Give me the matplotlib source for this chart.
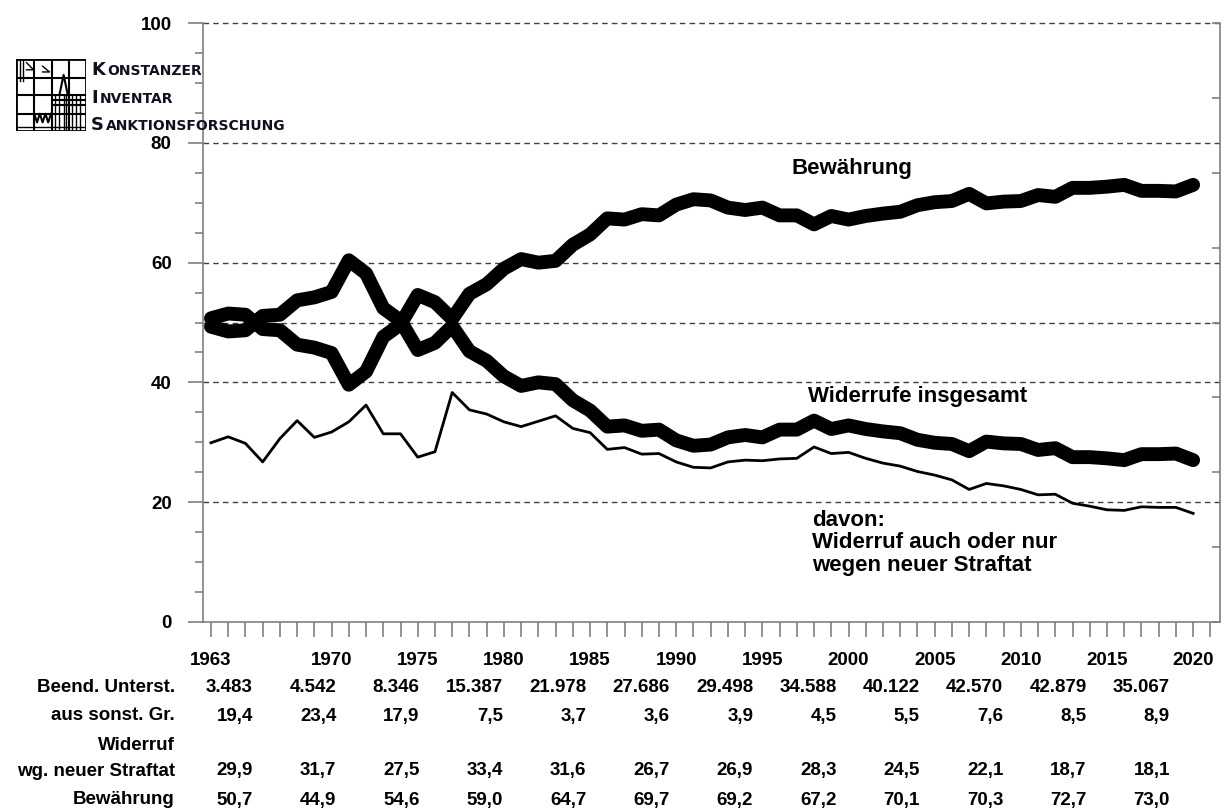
import matplotlib
matplotlib.use("Agg")
import matplotlib.pyplot as plt
import numpy as np

plt.rcParams["font.family"] = ["Liberation Sans", "DejaVu Sans"]
plt.rcParams["font.weight"] = "bold"

#+++++ data
years = list(range(1963, 2021))
bewaehrung = [50.7, 51.5, 51.3, 48.9, 48.7, 46.3, 45.8, 44.9, 39.6, 41.8,
              47.6, 49.7, 54.6, 53.4, 50.6, 54.8, 56.4, 59.0, 60.6, 60.0,
              60.3, 63.0, 64.7, 67.4, 67.2, 68.1, 67.9, 69.7, 70.6, 70.4,
              69.2, 68.8, 69.2, 67.9, 67.9, 66.4, 67.8, 67.2, 67.8, 68.2,
              68.5, 69.6, 70.1, 70.3, 71.5, 69.9, 70.2, 70.3, 71.3, 71.0,
              72.5, 72.5, 72.7, 73.0, 72.0, 72.0, 71.9, 73.0]
widerruf_ges = [49.3, 48.5, 48.7, 51.1, 51.3, 53.7, 54.2, 55.1, 60.4, 58.2,
                52.4, 50.3, 45.4, 46.6, 49.4, 45.2, 43.6, 41.0, 39.4, 40.0,
                39.7, 37.0, 35.3, 32.6, 32.8, 31.9, 32.1, 30.3, 29.4, 29.6,
                30.8, 31.2, 30.8, 32.1, 32.1, 33.6, 32.2, 32.8, 32.2, 31.8,
                31.5, 30.4, 29.9, 29.7, 28.5, 30.1, 29.8, 29.7, 28.7, 29.0,
                27.5, 27.5, 27.3, 27.0, 28.0, 28.0, 28.1, 27.0]
widerruf_neu = [29.9, 30.9, 29.8, 26.7, 30.6, 33.6, 30.8, 31.7, 33.4, 36.2,
                31.4, 31.4, 27.5, 28.4, 38.3, 35.4, 34.7, 33.4, 32.6, 33.5,
                34.4, 32.3, 31.6, 28.8, 29.1, 28.0, 28.1, 26.7, 25.8, 25.7,
                26.7, 27.0, 26.9, 27.2, 27.3, 29.2, 28.1, 28.3, 27.3, 26.5,
                26.0, 25.1, 24.5, 23.7, 22.1, 23.1, 22.7, 22.1, 21.2, 21.3,
                19.8, 19.3, 18.7, 18.6, 19.2, 19.1, 19.1, 18.1]

label_years = [1963, 1970, 1975, 1980, 1985, 1990, 1995, 2000, 2005, 2010, 2015, 2020]
beend_unterst = [3483, 4542, 8346, 15387, 21978, 27686, 29498, 34588, 40122, 42570, 42879, 35067]
aus_sonst = [19.4, 23.4, 17.9, 7.5, 3.7, 3.6, 3.9, 4.5, 5.5, 7.6, 8.5, 8.9]
tab_widerruf_neu = [29.9, 31.7, 27.5, 33.4, 31.6, 26.7, 26.9, 28.3, 24.5, 22.1, 18.7, 18.1]
tab_bewaehrung = [50.7, 44.9, 54.6, 59.0, 64.7, 69.7, 69.2, 67.2, 70.1, 70.3, 72.7, 73.0]
#-----

W, H = 1224, 808
gray = "#808080"


def fx(x):
    return x / W


def fy(y):
    return 1 - y / H


fig = plt.figure(figsize=(W / 100, H / 100), dpi=100)
ax = fig.add_axes([fx(202.7), fy(621.7), (1220 - 202.7) / W, (621.7 - 23.3) / H])

for g in [20, 40, 50, 60, 80, 100]:
    ax.axhline(g, color="#404040", lw=1, ls=(0, (4, 3)), zorder=0.5, clip_on=False)

ax.plot(years, widerruf_ges, color="k", lw=10, solid_capstyle="round")
ax.plot(years, bewaehrung, color="k", lw=10, solid_capstyle="round")
ax.plot(years, widerruf_neu, color="k", lw=2)

ax.set_xlim(1962.52, 2021.56)
ax.set_ylim(0, 100)

ax.spines["top"].set_visible(False)
ax.spines["right"].set_visible(False)
for s in ["left", "bottom"]:
    ax.spines[s].set_color(gray)
    ax.spines[s].set_linewidth(1.2)

all_years = list(range(1963, 2022))
ax.set_xticks(all_years)
ax.set_xticklabels([str(y) if y in label_years else "" for y in all_years])
ax.tick_params(axis="x", direction="out", length=10.8, width=1.2, color=gray,
               pad=11, labelsize=13.5)

ax.set_yticks(range(0, 101, 20))
ax.set_yticks(range(0, 101, 5), minor=True)
ax.tick_params(axis="y", which="major", direction="out", length=10.8, width=1.2,
               color=gray, pad=11.5, labelsize=13.5)
ax.tick_params(axis="y", which="minor", direction="out", length=5.5, width=1.2,
               color=gray)

ax2 = ax.twinx()
ax2.set_ylim(0, 100)
ax2.set_yticks(np.arange(0, 100.1, 12.5))
ax2.set_yticklabels([])
ax2.tick_params(axis="y", direction="in", length=5.5, width=1.2, color=gray)
for s in ["top", "left", "bottom"]:
    ax2.spines[s].set_visible(False)
ax2.spines["right"].set_color(gray)
ax2.spines["right"].set_linewidth(1.2)

ax.text(1996.7, 75.7, "Bewährung", fontsize=16, fontweight="bold", va="center")
ax.text(1997.65, 37.6, "Widerrufe insgesamt", fontsize=16, fontweight="bold",
        va="center")
ax.text(1997.9, 18.7, "davon:\nWiderruf auch oder nur\nwegen neuer Straftat",
        fontsize=16, fontweight="bold", va="top", linespacing=1.1)

# table below the chart
col_right = np.linspace(253, 1170, len(label_years))
rows = [
    ("Beend. Unterst.", 687, [f"{v:,}".replace(",", ".") for v in beend_unterst]),
    ("aus sonst. Gr.", 716, [f"{v:.1f}".replace(".", ",") for v in aus_sonst]),
    ("wg. neuer Straftat", 771, [f"{v:.1f}".replace(".", ",") for v in tab_widerruf_neu]),
    ("Bewährung", 800, [f"{v:.1f}".replace(".", ",") for v in tab_bewaehrung]),
]
for label, y, vals in rows:
    fig.text(fx(175), fy(y), label, ha="right", va="center", fontsize=13.5)
    for xr, v in zip(col_right, vals):
        fig.text(fx(xr), fy(y), v, ha="right", va="center", fontsize=13.5)
fig.text(fx(175), fy(746), "Widerruf", ha="right", va="center", fontsize=13.5)

# logo
lax = fig.add_axes([fx(16), fy(131), 70 / W, 72 / H])
lax.set_xlim(0, 1)
lax.set_ylim(0, 1)
lax.axis("off")
lk = dict(color="k", lw=1.5)
lax.plot([0, 1, 1, 0, 0], [0, 0, 1, 1, 0], color="k", lw=2)
for v in [0.25, 0.51, 0.75]:
    lax.plot([v, v], [0, 1], **lk)
for h in [0.24, 0.5, 0.73]:
    lax.plot([0, 1], [h, h], **lk)
lax.plot([0.52, 0.98], [0.43, 0.43], **lk)
lax.plot([0.52, 0.98], [0.36, 0.36], **lk)
for v in [0.55, 0.62, 0.68, 0.72, 0.8, 0.86, 0.92]:
    lax.plot([v, v], [0.02, 0.5], color="k", lw=1)
lax.plot([0.62, 0.68, 0.74], [0.5, 0.78, 0.5], **lk)
lax.plot([0.26, 0.3, 0.34, 0.38, 0.42, 0.46, 0.5], [0.24, 0.12, 0.24, 0.12, 0.24, 0.12, 0.24], **lk)
lax.plot([0.05, 0.05], [0.7, 1], color="k", lw=1)
lax.plot([0.1, 0.1], [0.7, 1], color="k", lw=1)
lax.plot([0.15, 0.25, 0.15], [0.95, 0.85, 0.85], color="k", lw=1)
lax.plot([0.38, 0.48, 0.38], [0.9, 0.82, 0.82], color="k", lw=1)
lax.plot([0.0, 1.0], [0.05, 0.05], color="k", lw=1)

lf = dict(family="DejaVu Sans", fontweight="bold", va="baseline", color="#101020")
for first, rest, xr, yb in [("K", "ONSTANZER", 107, 75),
                            ("I", "NVENTAR", 100, 102.7),
                            ("S", "ANKTIONSFORSCHUNG", 106, 130)]:
    fig.text(fx(91), fy(yb), first, fontsize=13, **lf)
    fig.text(fx(xr), fy(yb), rest, fontsize=10, **lf)

fig.savefig("out.png", dpi=100)
